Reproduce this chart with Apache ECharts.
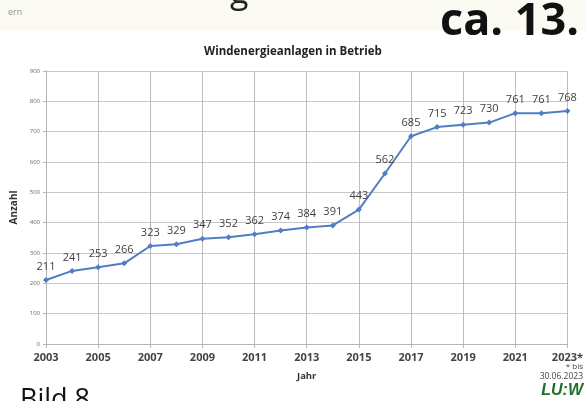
<!DOCTYPE html>
<html><head><meta charset="utf-8">
<script src="https://cdn.jsdelivr.net/npm/echarts@6/dist/echarts.min.js"></script>
<style>html,body{margin:0;padding:0;background:#fff}#c{width:586px;height:401px}</style>
</head><body><div id="c"></div>
<script>
const years = ['2003','2004','2005','2006','2007','2008','2009','2010','2011','2012','2013','2014','2015','2016','2017','2018','2019','2020','2021','2022','2023'];
const counts = [211,241,253,266,323,329,347,352,362,374,384,391,443,562,685,715,723,730,761,761,768];
const yTicks = [0,100,200,300,400,500,600,700,800,900];

const chart = echarts.init(document.getElementById('c'), null, {renderer:'canvas'});
const font = '"Open Sans", "Liberation Sans", sans-serif';
chart.setOption({
  animation:false,
  backgroundColor:'#ffffff',
  textStyle:{fontFamily:font},
  title:{text:'Windenergieanlagen in Betrieb', left:'center', top:41,
    textStyle:{fontSize:11.5, fontWeight:'bold', color:'#222', fontFamily:font}},
  grid:{left:46, right:13, top:71, bottom:57},
  xAxis:{type:'category', data:years, boundaryGap:false,
    name:'Jahr', nameLocation:'middle', nameGap:27,
    nameTextStyle:{fontSize:9.5, fontWeight:'bold', color:'#333'},
    axisLine:{lineStyle:{color:'#b5b5b5'}},
    axisTick:{show:true, interval:1, length:4, lineStyle:{color:'#b5b5b5'}},
    axisLabel:{interval:1, fontSize:11, color:'#444', fontWeight:'bold', margin:8,
      formatter:v=> v==='2023' ? '2023*' : v},
    splitLine:{show:true, interval:1, lineStyle:{color:'#bdbdbd', width:1}}
  },
  yAxis:{type:'value', min:yTicks[0], max:yTicks[yTicks.length-1], interval:100,
    name:'Anzahl', nameLocation:'middle', nameGap:21, nameRotate:90,
    nameTextStyle:{fontSize:10, fontWeight:'bold', color:'#333'},
    axisLine:{show:true, lineStyle:{color:'#b5b5b5'}},
    axisTick:{show:true, length:3, lineStyle:{color:'#b5b5b5'}},
    axisLabel:{fontSize:6, color:'#666', margin:6},
    splitLine:{lineStyle:{color:'#c8c8c8', width:1}}
  },
  series:[{type:'line', data:counts, symbol:'diamond', symbolSize:6,
    lineStyle:{color:'#4f7ec4', width:2}, itemStyle:{color:'#4f7ec4'},
    label:{show:true, position:'top', distance:5, fontSize:11, color:'#404040'}}],
  graphic:[
    {type:'rect', left:0, top:0, shape:{width:586, height:31}, style:{fill:'#fbfaf3'}, z:-1},
    {type:'text', left:8, top:8, style:{text:'ern', fontSize:9, fill:'#8a9a8a', fontFamily:font}},
    {type:'text', left:230, top:-24, style:{text:'g', fontSize:34, fill:'#222', fontFamily:'"Open Sans", sans-serif'}},
    {type:'text', left:440, top:0, style:{text:'ca. 13.', fontSize:45, fontWeight:'bold', fill:'#111', fontFamily:'"Open Sans", sans-serif'}},
    {type:'text', left:20, top:387, style:{text:'Bild 8', fontSize:27, fill:'#111', fontFamily:'"Open Sans", sans-serif'}},
    {type:'text', right:3, top:363, style:{text:'* bis', fontSize:8, fill:'#444', fontFamily:font, align:'right'}},
    {type:'text', right:3, top:372, style:{text:'30.06.2023', fontSize:8.5, fill:'#444', fontFamily:font}},
    {type:'text', right:3, top:383, style:{text:'LU:W', fontSize:16, fontWeight:'bold', fontStyle:'italic', fill:'#1f6e2c', fontFamily:'"Liberation Sans", sans-serif'}}
  ]
});
</script></body></html>
